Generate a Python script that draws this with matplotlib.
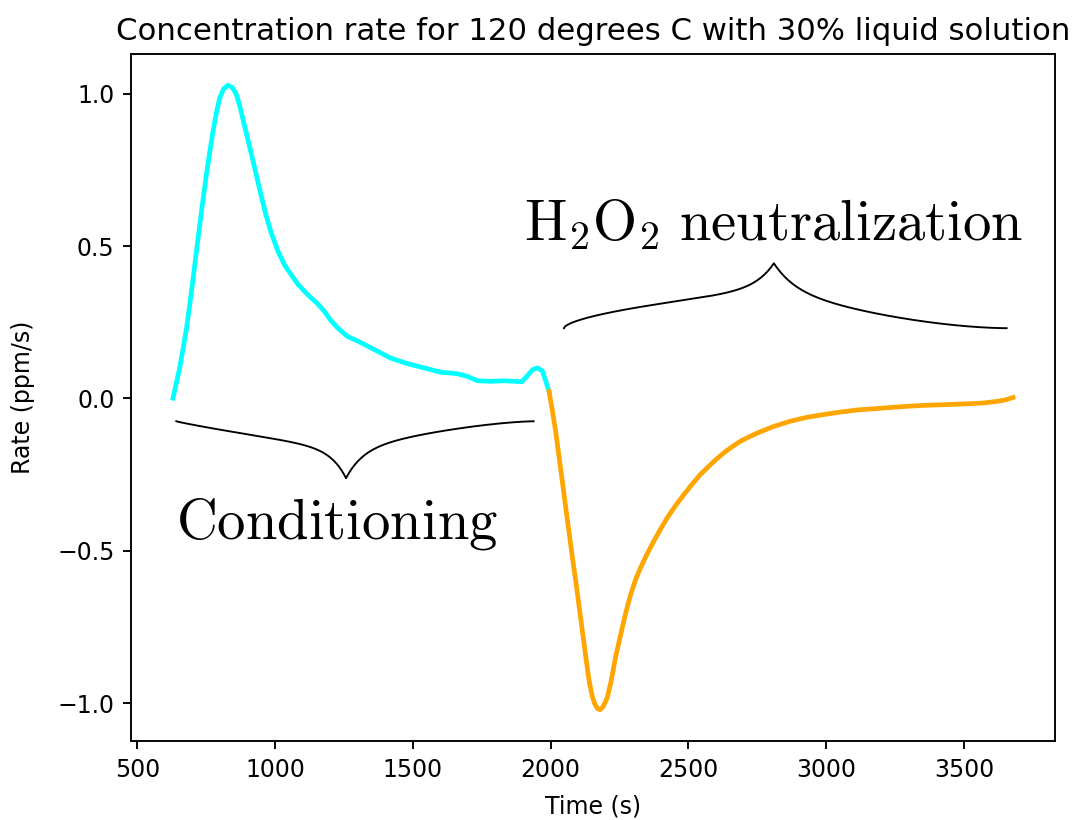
import numpy as np
import matplotlib
matplotlib.use("Agg")
import matplotlib.pyplot as plt

# ---------------- data ----------------
time_cond = [629, 641, 653, 665, 678, 690, 702, 714, 726, 738, 750, 762, 774, 786, 798,
             812, 828, 845, 858, 870, 882, 894, 906, 918, 931, 949, 967, 985, 1010, 1034,
             1058, 1082, 1106, 1130, 1155, 1179, 1200, 1227, 1263, 1300, 1360, 1420, 1481,
             1541, 1601, 1662, 1698, 1734, 1783, 1831, 1870, 1895, 1916, 1935, 1952,
             1970, 1994]
rate_cond = [0.001, 0.05, 0.099, 0.16, 0.23, 0.31, 0.394, 0.482, 0.569, 0.653, 0.733,
             0.807, 0.875, 0.935, 0.985, 1.015, 1.028, 1.02, 1.0, 0.965, 0.92, 0.875,
             0.83, 0.785, 0.735, 0.665, 0.6, 0.545, 0.483, 0.438, 0.406, 0.375, 0.352,
             0.33, 0.31, 0.285, 0.258, 0.231, 0.203, 0.188, 0.160, 0.132, 0.114, 0.10,
             0.086, 0.081, 0.072, 0.058, 0.056, 0.058, 0.056, 0.055, 0.075, 0.095, 0.10,
             0.09, 0.023]

time_neut = [1994, 2006, 2018, 2030, 2042, 2054, 2066, 2078, 2091, 2103, 2115, 2127,
             2139, 2150, 2160, 2170, 2179, 2190, 2205, 2220, 2235, 2254, 2272, 2290,
             2308, 2326, 2350, 2374, 2398, 2423, 2453, 2483, 2513, 2543, 2568, 2598,
             2628, 2658, 2688, 2718, 2749, 2809, 2869, 2930, 2990, 3051, 3111, 3172,
             3232, 3292, 3352, 3413, 3473, 3530, 3570, 3618, 3650, 3678]
rate_neut = [0.023, -0.04, -0.108, -0.19, -0.272, -0.354, -0.436, -0.518, -0.60, -0.682,
             -0.764, -0.846, -0.925, -0.975, -1.003, -1.018, -1.022, -1.012, -0.983,
             -0.925, -0.851, -0.775, -0.705, -0.644, -0.595, -0.556, -0.51, -0.469,
             -0.43, -0.392, -0.352, -0.316, -0.282, -0.25, -0.228, -0.202, -0.179,
             -0.159, -0.141, -0.127, -0.114, -0.092, -0.075, -0.062, -0.053, -0.045,
             -0.038, -0.034, -0.030, -0.026, -0.023, -0.021, -0.019, -0.017, -0.015,
             -0.010, -0.005, 0.003]

title_text = "Concentration rate for 120 degrees C with 30% liquid solution"
xlabel_text = "Time (s)"
ylabel_text = "Rate (ppm/s)"

# braces: (x_start, x_tip, x_end, y_base, y_tip, p_left, p_right, B_left, B_right)
brace_cond = (641, 1257, 1938, -0.075, -0.262, 0.9, 1.5, 0.5, 0.5)
brace_neut = (2048, 2810, 3655, 0.2305, 0.4436, 0.6, 1.7, 0.4, 0.4)
label_cond = (641, -0.459, r"$\mathrm{Conditioning}$")
label_neut = (1902, 0.520, r"$\mathrm{H_2O_2\ neutralization}$")

# ---------------- figure ----------------
DPI = 170
fig = plt.figure(figsize=(1077 / DPI, 820 / DPI), dpi=DPI)
ax = fig.add_axes([131 / 1077, (820 - 741) / 820, (1055 - 131) / 1077, (741 - 54) / 820])

ax.plot(time_cond, rate_cond, color="cyan", lw=2)
ax.plot(time_neut, rate_neut, color="orange", lw=2)
ax.set_title(title_text, fontsize=13)
ax.set_xlabel(xlabel_text, labelpad=5.5)
ax.set_ylabel(ylabel_text, labelpad=9.5)
ax.set_xticks([500, 1000, 1500, 2000, 2500, 3000, 3500])
ax.set_yticks([-1.0, -0.5, 0.0, 0.5, 1.0])
ax.autoscale(False)


def half(t, p, B, w=0.09):
    return (1 - B) * t ** p + B * np.exp((t - 1) / w) - B * np.exp(-1 / w)


def draw_brace(ax, spec):
    xs, xt, xe, yb, yt, pl, pr, bl, br = spec
    tl = np.linspace(0, 1, 200)
    xl = xs + (xt - xs) * tl
    yl = yb + (yt - yb) * half(tl, pl, bl)
    tr = np.linspace(1, 0, 200)
    xr = xe - (xe - xt) * tr
    yr = yb + (yt - yb) * half(tr, pr, br)
    ax.plot(np.concatenate([xl, xr]), np.concatenate([yl, yr]), color="black", lw=0.8)


draw_brace(ax, brace_cond)
draw_brace(ax, brace_neut)

plt.rcParams["mathtext.fontset"] = "cm"
for lx, ly, txt in (label_cond, label_neut):
    ax.text(lx, ly, txt, ha="left", va="baseline", fontsize=24)

fig.savefig("out.png", dpi=DPI)
